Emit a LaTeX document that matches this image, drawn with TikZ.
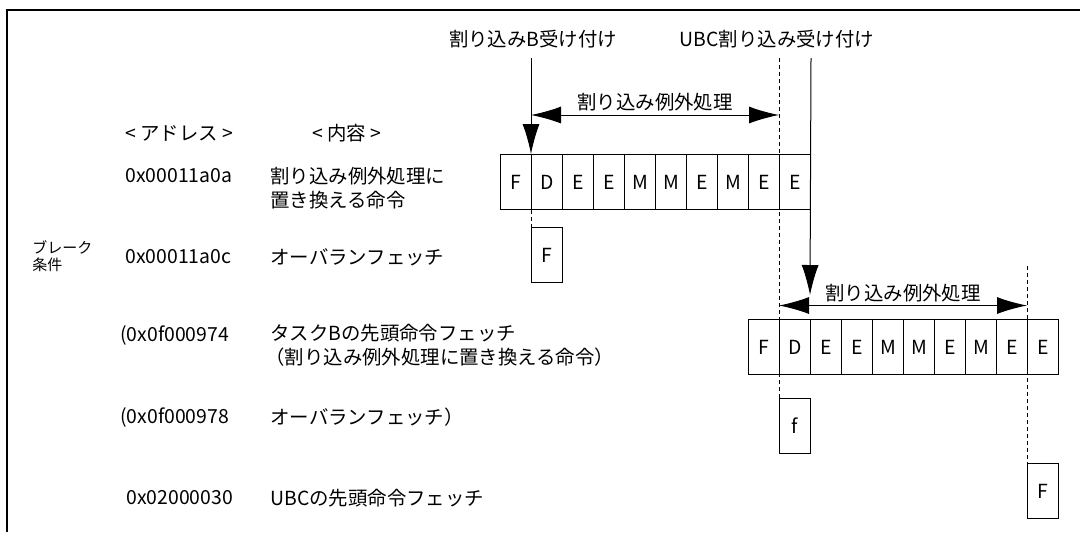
\documentclass[tikz,border=0pt]{standalone}
\usepackage{fontspec}
\setmainfont{Noto Sans CJK JP}
\usetikzlibrary{arrows.meta,positioning}

\begin{document}
\begin{tikzpicture}[x=0.5pt,y=-0.5pt,font=\fontsize{9.7}{12}\selectfont,
                cell/.style={draw,line width=0.5pt,minimum width=15.5pt,minimum height=27.5pt,inner sep=0pt,anchor=north west},
                txt/.style={inner sep=0pt,anchor=west,align=left},
                guide/.style={line width=0.5pt,dash pattern=on 2pt off 1.5pt},
                drop/.style={line width=0.5pt,-{Latex[length=15pt,width=8.5pt]}},
                span/.style={line width=0.5pt,{Latex[length=15pt,width=8.5pt]}-{Latex[length=15pt,width=8.5pt]}}]
                \useasboundingbox (0,0) rectangle (1080,532);
                \draw[line width=1.3pt] (7,532)--(7,10)--(1080,10);
                \node[txt] (hadr) at (125,133) {< アドレス >};
                \node[txt] (hcnt) at (312,133) {< 内容 >};
                \node[txt] (adA) at (125,176) {0x00011a0a};
                \node[txt] (cnA) at (270,188) {割り込み例外処理に\\置き換える命令};
                \node[txt,font=\fontsize{7.5}{8.5}\selectfont] (brk) at (32,256) {ブレーク\\条件};
                \node[txt] (adB) at (125,257) {0x00011a0c};
                \node[txt] (cnB) at (270,257) {オーバランフェッチ};
                \node[txt] (adC) at (120,335) {(0x0f000974};
                \node[txt] (cnC) at (270,345) {タスクBの先頭命令フェッチ\\\hspace*{-2.5pt}（割り込み例外処理に置き換える命令）};
                \node[txt] (adD) at (120,417) {(0x0f000978};
                \node[txt] (cnD) at (270,417) {オーバランフェッチ）};
                \node[txt] (adE) at (126,498) {0x02000030};
                \node[txt] (cnE) at (270,498) {UBCの先頭命令フェッチ};
                \foreach \t [count=\i] in {F,D,E,E,M,M,E,M,E,E}{
                    \node[cell] (a\i) at ({500+31*(\i-1)},154) {\t};
                    \node[cell] (b\i) at ({748+31*(\i-1)},319) {\t};
                }
                \node[cell] (ovA) at (531,227) {F};
                \node[cell] (ovB) at (779,398) {f};
                \node[cell] (ubc) at (1027,463) {F};
                \node (accB) at (533,39) {割り込みB受け付け};
                \node (accU) at (777,39) {UBC割り込み受け付け};
                \draw[drop] ([yshift=-1.5pt]accB.south -| a2.north west)--(a2.north west);
                \draw[guide] (a2.north west)--(ovA.north west);
                \draw[guide] ([yshift=-1.5pt]accU.south -| a10.north west)--(ovB.north west);
                \draw[drop] ([yshift=-1.5pt]accU.south -| a10.north east)--([yshift=12pt]b3.north west);
                \draw[guide] ([yshift=26.5pt]b10.north west)--(ubc.north west);
                \draw[span] ([yshift=19.5pt]a2.north west)--node[above,inner sep=1.5pt]{割り込み例外処理} ([yshift=19.5pt]a10.north west);
                \draw[span] ([yshift=6.75pt]b2.north west)--node[above,inner sep=1.5pt]{割り込み例外処理} ([yshift=6.75pt]b10.north west);
            \end{tikzpicture}
\end{document}
